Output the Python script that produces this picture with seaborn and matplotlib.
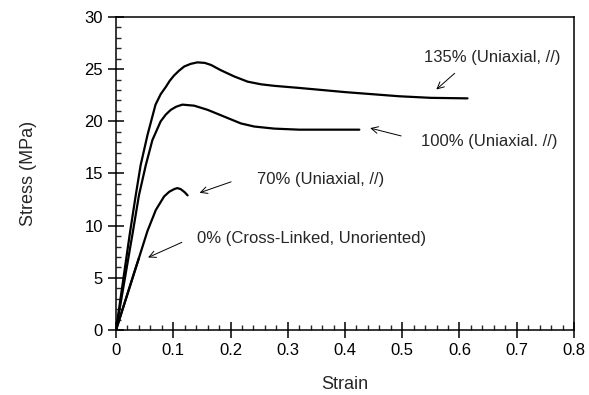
import matplotlib
matplotlib.use("Agg")
import matplotlib.pyplot as plt
from matplotlib.ticker import MultipleLocator
import seaborn as sns
import pandas as pd

# ---- data ----
strain_135 = [0, 0.012, 0.024, 0.0344, 0.043, 0.055, 0.069, 0.078, 0.087, 0.094, 0.1015,
              0.11, 0.119, 0.13, 0.142, 0.155, 0.166, 0.183, 0.2065, 0.230, 0.253, 0.2765,
              0.32, 0.4, 0.495, 0.55, 0.614]
stress_135 = [0, 4.6, 9.2, 12.9, 15.8, 18.7, 21.6, 22.6, 23.3, 23.9, 24.4,
              24.85, 25.25, 25.5, 25.65, 25.6, 25.4, 24.9, 24.3, 23.8, 23.55, 23.4,
              23.2, 22.8, 22.4, 22.25, 22.2]

strain_100 = [0, 0.015, 0.03, 0.040, 0.052, 0.0635, 0.078, 0.087, 0.0957, 0.105, 0.116,
              0.1365, 0.160, 0.189, 0.218, 0.2415, 0.2765, 0.32, 0.425]
stress_100 = [0, 4.8, 9.6, 12.9, 15.8, 18.2, 20.0, 20.65, 21.1, 21.4, 21.6,
              21.5, 21.1, 20.45, 19.8, 19.5, 19.3, 19.2, 19.2]

strain_70 = [0, 0.015, 0.03, 0.04, 0.055, 0.0695, 0.084, 0.093, 0.1015, 0.107, 0.113,
             0.12, 0.125]
stress_70 = [0, 2.6, 5.2, 6.9, 9.5, 11.5, 12.8, 13.25, 13.5, 13.6, 13.5,
             13.2, 12.9]

strain_0 = [0, 0.02, 0.04]
stress_0 = [0, 3.45, 6.9]

labels = ["135% (Uniaxial, //)", "100% (Uniaxial. //)", "70% (Uniaxial, //)",
          "0% (Cross-Linked, Unoriented)"]
# text position, arrow tail, arrow head (data coords)
text_pos = [(0.538, 26.1), (0.532, 18.1), (0.247, 14.45), (0.142, 8.8)]
arrow_tail = [(0.5915, 24.6), (0.498, 18.6), (0.201, 14.2), (0.115, 8.4)]
arrow_head = [(0.5595, 23.05), (0.444, 19.35), (0.146, 13.15), (0.056, 6.95)]

xticks = [0, 0.1, 0.2, 0.3, 0.4, 0.5, 0.6, 0.7, 0.8]
xticklabels = ["0", "0.1", "0.2", "0.3", "0.4", "0.5", "0.6", "0.7", "0.8"]
yticks = [0, 5, 10, 15, 20, 25, 30]

# ---- build table ----
frames = []
for name, xs, ys in [("135", strain_135, stress_135), ("100", strain_100, stress_100),
                     ("70", strain_70, stress_70), ("0", strain_0, stress_0)]:
    frames.append(pd.DataFrame({"Strain": xs, "Stress": ys, "series": name}))
df = pd.concat(frames, ignore_index=True)

sns.set_style("ticks")
plt.rcParams["font.family"] = ["Liberation Sans", "DejaVu Sans"]

fig = plt.figure(figsize=(5.89, 3.95), dpi=100)
ax = fig.add_axes([0.197, 0.1646, 0.7775, 0.7924])

sns.lineplot(data=df, x="Strain", y="Stress", units="series", estimator=None,
             sort=False, color="black", linewidth=1.6, ax=ax)

ax.set_xlim(0, 0.8)
ax.set_ylim(0, 30)
ax.set_xticks(xticks)
ax.set_xticklabels(xticklabels)
ax.set_yticks(yticks)
ax.xaxis.set_minor_locator(MultipleLocator(0.02))
ax.yaxis.set_minor_locator(MultipleLocator(1))
ax.tick_params(which="major", direction="inout", length=11, width=1.1,
               labelsize=12, colors="black", pad=4)
ax.tick_params(which="minor", direction="in", length=3.5, width=1.0)
for s in ax.spines.values():
    s.set_linewidth(1.1)
    s.set_color("black")

ax.set_xlabel("Strain", fontsize=13, labelpad=13)
ax.set_ylabel("Stress (MPa)", fontsize=13, labelpad=34)

for lab, tp, at, ah in zip(labels, text_pos, arrow_tail, arrow_head):
    ax.text(tp[0], tp[1], lab, fontsize=12, ha="left", va="center")
    ax.annotate("", xy=ah, xytext=at,
                arrowprops=dict(arrowstyle="->", color="black", lw=0.7,
                                mutation_scale=12, shrinkA=0, shrinkB=0))

fig.savefig("out.png", dpi=100)
